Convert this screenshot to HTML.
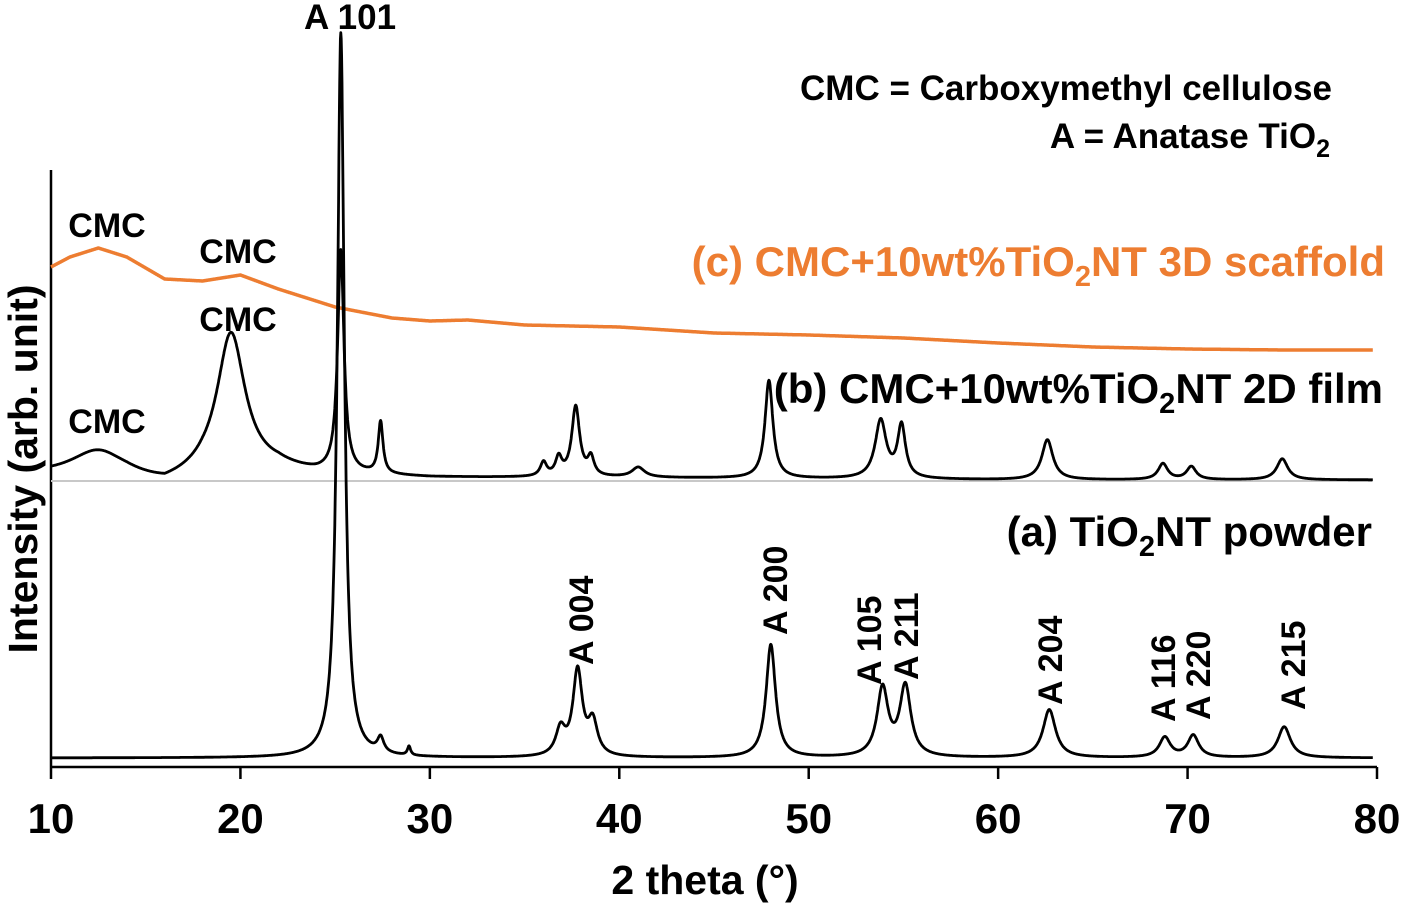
<!DOCTYPE html>
<html><head><meta charset="utf-8">
<style>
html,body{margin:0;padding:0;background:#fff;}
svg text{font-family:"Liberation Sans",Arial,sans-serif;font-weight:bold;}
</style></head>
<body>
<svg id="chart" width="1401" height="907" viewBox="0 0 1401 907" xmlns="http://www.w3.org/2000/svg">
<g id="axes"></g>
<g id="series"></g>
<g id="labels"></g>
</svg>
<script>
// ---- data ----
const xTicks = [10,20,30,40,50,60,70,80];
// series (a) TiO2NT powder: peaks [center, height, halfwidth]
const aCenters = [25.3, 27.4, 28.9, 36.9, 37.8, 38.6, 48.0, 53.9, 55.1, 62.7, 68.8, 70.3, 75.1];
const aHeights = [725, 15, 9, 26, 85, 33, 113, 68, 70, 48, 20, 22, 31];
const aWidths  = [0.22, 0.2, 0.1, 0.3, 0.3, 0.3, 0.3, 0.35, 0.35, 0.4, 0.35, 0.35, 0.4];
const aBase = 9;
// series (b) 2D film
const bCenters = [12.5, 19.5, 25.3, 27.4, 36.0, 36.8, 37.7, 38.5, 41.0, 47.9, 53.8, 54.9, 62.6, 68.7, 70.2, 75.0];
const bHeights = [28, 140, 222, 52, 14, 18, 70, 18, 10, 98, 58, 52, 40, 16, 13, 21];
const bWidths  = [1.8, 0.9, 0.2, 0.15, 0.2, 0.2, 0.25, 0.2, 0.4, 0.25, 0.35, 0.25, 0.35, 0.3, 0.3, 0.35];
const bBgX = [10, 14, 16, 18, 22, 24, 30, 40, 50, 60, 70, 80];
const bBgV = [290, 285, 279, 290, 297, 292, 289, 289, 288, 287, 287, 287];
// series (c) 3D scaffold background
const cX = [10, 11, 12.5, 14, 16, 18, 20, 22, 25, 28, 30, 32, 35, 40, 45, 50, 55, 60, 65, 70, 75, 80];
const cV = [500, 510, 519, 510, 488, 486, 492, 478, 460, 449, 446, 447, 442, 440, 434, 432, 429, 424, 420, 418, 417, 417];

// ---- scales ----
const X0 = 51, X1 = 1377, YB = 767;
const xS = v => X0 + (v - 10) / 70 * (X1 - X0);
const yS = v => YB - v;
const NS = 'http://www.w3.org/2000/svg';
function mk(tag, attrs, parent){const e=document.createElementNS(NS,tag);for(const k in attrs)e.setAttribute(k,attrs[k]);parent.appendChild(e);return e;}
function interp(xs, vs, x){for(let i=0;i<xs.length-1;i++){if(x<=xs[i+1]){const t=(x-xs[i])/(xs[i+1]-xs[i]);return vs[i]+t*(vs[i+1]-vs[i]);}}return vs[vs.length-1];}
function peaks(c,h,w,x){let s=0;for(let i=0;i<c.length;i++){const d=(x-c[i])/w[i];s+=h[i]/(1+d*d);}return s;}

const axes=document.getElementById('axes');
const series=document.getElementById('series');
const labels=document.getElementById('labels');

// axes
const xa=mk('line',{x1:X0,y1:YB,x2:X1,y2:YB,stroke:'#000','stroke-width':2.5},axes);


const ya=mk('line',{x1:X0,y1:170,x2:X0,y2:YB,stroke:'#000','stroke-width':2.5},axes);


const gl=mk('line',{x1:X0,y1:481,x2:1372,y2:481,stroke:'#c8c8c8','stroke-width':2},axes);


xTicks.forEach(t=>{
  const l=mk('line',{x1:xS(t),y1:YB,x2:xS(t),y2:779,stroke:'#000','stroke-width':2.5},axes);
  
  
  const tx=mk('text',{x:xS(t),y:833,'text-anchor':'middle','font-size':42},axes);
  
  
  tx.textContent=t;
});

// series
function drawSeries(fn, color, sw, name){
  let d='';
  for(let x=10;x<=79.8;x+=0.02){d+=(d?'L':'M')+xS(x).toFixed(1)+','+yS(fn(x)).toFixed(1);}
  const p=mk('path',{d:d,fill:'none',stroke:color,'stroke-width':sw,'stroke-linejoin':'round'},series);
  
  
}
drawSeries(x=>interp(cX,cV,x),'#ED7D31',3.5,'series-c-scaffold');
drawSeries(x=>interp(bBgX,bBgV,x)+peaks(bCenters,bHeights,bWidths,x),'#000',2.8,'series-b-film');
drawSeries(x=>aBase+peaks(aCenters,aHeights,aWidths,x),'#000',2.8,'series-a-powder');

// annotations
function txt(s,x,y,size,opts,name){
  const t=mk('text',Object.assign({x:x,y:y,'font-size':size},opts||{}),labels);
  
  
  t.innerHTML=s;return t;
}
txt('A 101',350,29,35,{'text-anchor':'middle'},'peak-label-a101');
txt('CMC = Carboxymethyl cellulose',1332,100,35,{'text-anchor':'end'},'legend-cmc');
txt('A = Anatase TiO<tspan font-size="25" dy="9">2</tspan>',1330,148,35,{'text-anchor':'end'},'legend-anatase');
txt('(c) CMC+10wt%TiO<tspan font-size="29" dy="10">2</tspan><tspan dy="-10">NT 3D scaffold</tspan>',1385,276,42,{'text-anchor':'end',fill:'#ED7D31'},'label-series-c');
txt('(b) CMC+10wt%TiO<tspan font-size="29" dy="10">2</tspan><tspan dy="-10">NT 2D film</tspan>',1383,403,42,{'text-anchor':'end'},'label-series-b');
txt('(a) TiO<tspan font-size="29" dy="10">2</tspan><tspan dy="-10">NT powder</tspan>',1372,546,42,{'text-anchor':'end'},'label-series-a');
txt('CMC',107,237,34,{'text-anchor':'middle'},'cmc-label');
txt('CMC',238,263,34,{'text-anchor':'middle'},'cmc-label');
txt('CMC',238,331,34,{'text-anchor':'middle'},'cmc-label');
txt('CMC',107,433,34,{'text-anchor':'middle'},'cmc-label');
const rot=[['A 004',593,665],['A 200',787,635],['A 105',881,685],['A 211',918,680],['A 204',1062,705],['A 116',1175,722],['A 220',1210,720],['A 215',1305,710]];
rot.forEach(r=>{
  txt(r[0],r[1],r[2],34,{transform:'rotate(-90 '+r[1]+' '+r[2]+')'},'peak-label');
});
txt('Intensity (arb. unit)',37,469,41,{'text-anchor':'middle',transform:'rotate(-90 37 469)'},'y-axis-title');
txt('2 theta (°)',705,894,41,{'text-anchor':'middle'},'x-axis-title');
</script>
</body></html>
